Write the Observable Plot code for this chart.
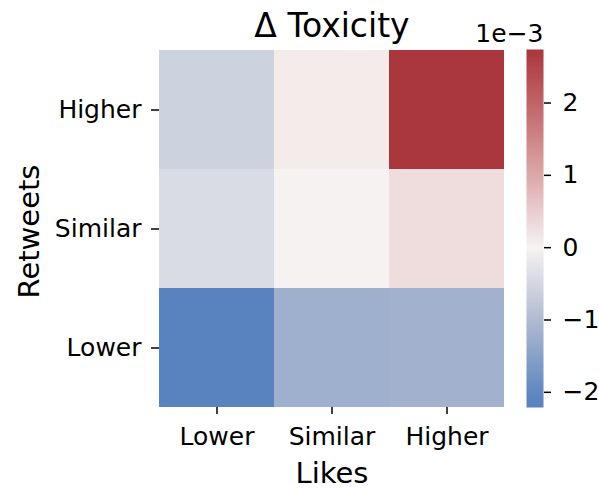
<!DOCTYPE html>
<html>
<head>
<meta charset="utf-8">
<script src="https://cdn.jsdelivr.net/npm/d3@7"></script>
<script src="https://cdn.jsdelivr.net/npm/@observablehq/plot@0.6"></script>
<style>
  html, body { margin: 0; padding: 0; background: white; }
  #wrap { position: relative; width: 599px; height: 488px; }
  #wrap svg { position: absolute; left: 0; top: 0; }
</style>
</head>
<body>
<div id="wrap"></div>
<script>
// Categories
const likes = ["Lower", "Similar", "Higher"];
const retweets = ["Higher", "Similar", "Lower"];
// Δ Toxicity values (×1e-3), one array per Retweets row, ordered by likes
const rowHigher = [-0.59, 0.11, 2.74];
const rowSimilar = [-0.41, 0.02, 0.31];
const rowLower = [-2.21, -1.22, -1.19];
// Colorbar
const cbDomain = [-2.21, 2.74];
const cbTicks = [-2, -1, 0, 1, 2];
const anchorValues = [-2.21, -2, -1, 0, 1, 2, 2.74];
const anchorColors = ["#5883be", "#6088c1", "#b0bbd1", "#f7f3f3", "#dca8a9", "#c06467", "#aa373d"];

const rows = {Higher: rowHigher, Similar: rowSimilar, Lower: rowLower};
const table = retweets.flatMap(r => likes.map((l, i) => ({likes: l, retweets: r, value: rows[r][i]})));

const colorOpts = {type: "linear", domain: anchorValues, range: anchorColors, interpolate: "rgb", clamp: true};
const font = "DejaVu Sans";
const fmt = d => (d < 0 ? "\u2212" : "") + Math.abs(d);

const main = Plot.plot({
  width: 599, height: 488,
  marginTop: 49, marginBottom: 81, marginLeft: 159, marginRight: 95,
  style: {fontFamily: font, background: "white", color: "black"},
  x: {type: "band", domain: likes, padding: 0, label: null},
  y: {type: "band", domain: retweets, padding: 0, label: null},
  color: colorOpts,
  marks: [
    Plot.cell(table, {x: "likes", y: "retweets", fill: "value", inset: 0}),
    Plot.axisX({tickSize: 7, tickPadding: 13, fontSize: 25, label: null, strokeWidth: 1.5}),
    Plot.axisY({tickSize: 8, tickPadding: 10, fontSize: 25, label: null, strokeWidth: 1.5}),
    Plot.text(["Likes"], {frameAnchor: "bottom", dy: 66, fontSize: 29, lineAnchor: "middle", textAnchor: "middle", fill: "black"}),
    Plot.text(["Retweets"], {frameAnchor: "left", rotate: -90, dx: -130, dy: 3, fontSize: 29, lineAnchor: "middle", textAnchor: "middle", fill: "black"}),
    Plot.text(["Δ Toxicity"], {frameAnchor: "top", dy: -23, fontSize: 33, lineAnchor: "middle", textAnchor: "middle", fill: "black"})
  ]
});

const cb = Plot.plot({
  width: 599, height: 488,
  marginTop: 49, marginBottom: 81, marginLeft: 526, marginRight: 56,
  style: {fontFamily: font, background: "transparent", color: "black"},
  x: {type: "linear", domain: [0, 1], axis: null},
  y: {type: "linear", domain: cbDomain, label: null},
  color: colorOpts,
  marks: [
    Plot.raster({fill: (x, y) => y, x1: 0, x2: 1, y1: cbDomain[0], y2: cbDomain[1], pixelSize: 1}),
    Plot.axisY({anchor: "right", ticks: cbTicks, tickFormat: fmt, tickSize: 7, tickPadding: 12, fontSize: 25, label: null, strokeWidth: 1.5}),
    Plot.text(["1e−3"], {frameAnchor: "top-right", dy: -16, textAnchor: "end", fontSize: 25, lineAnchor: "middle", fill: "black"})
  ]
});

const wrap = document.getElementById("wrap");
wrap.appendChild(main);
wrap.appendChild(cb);
</script>
</body>
</html>
